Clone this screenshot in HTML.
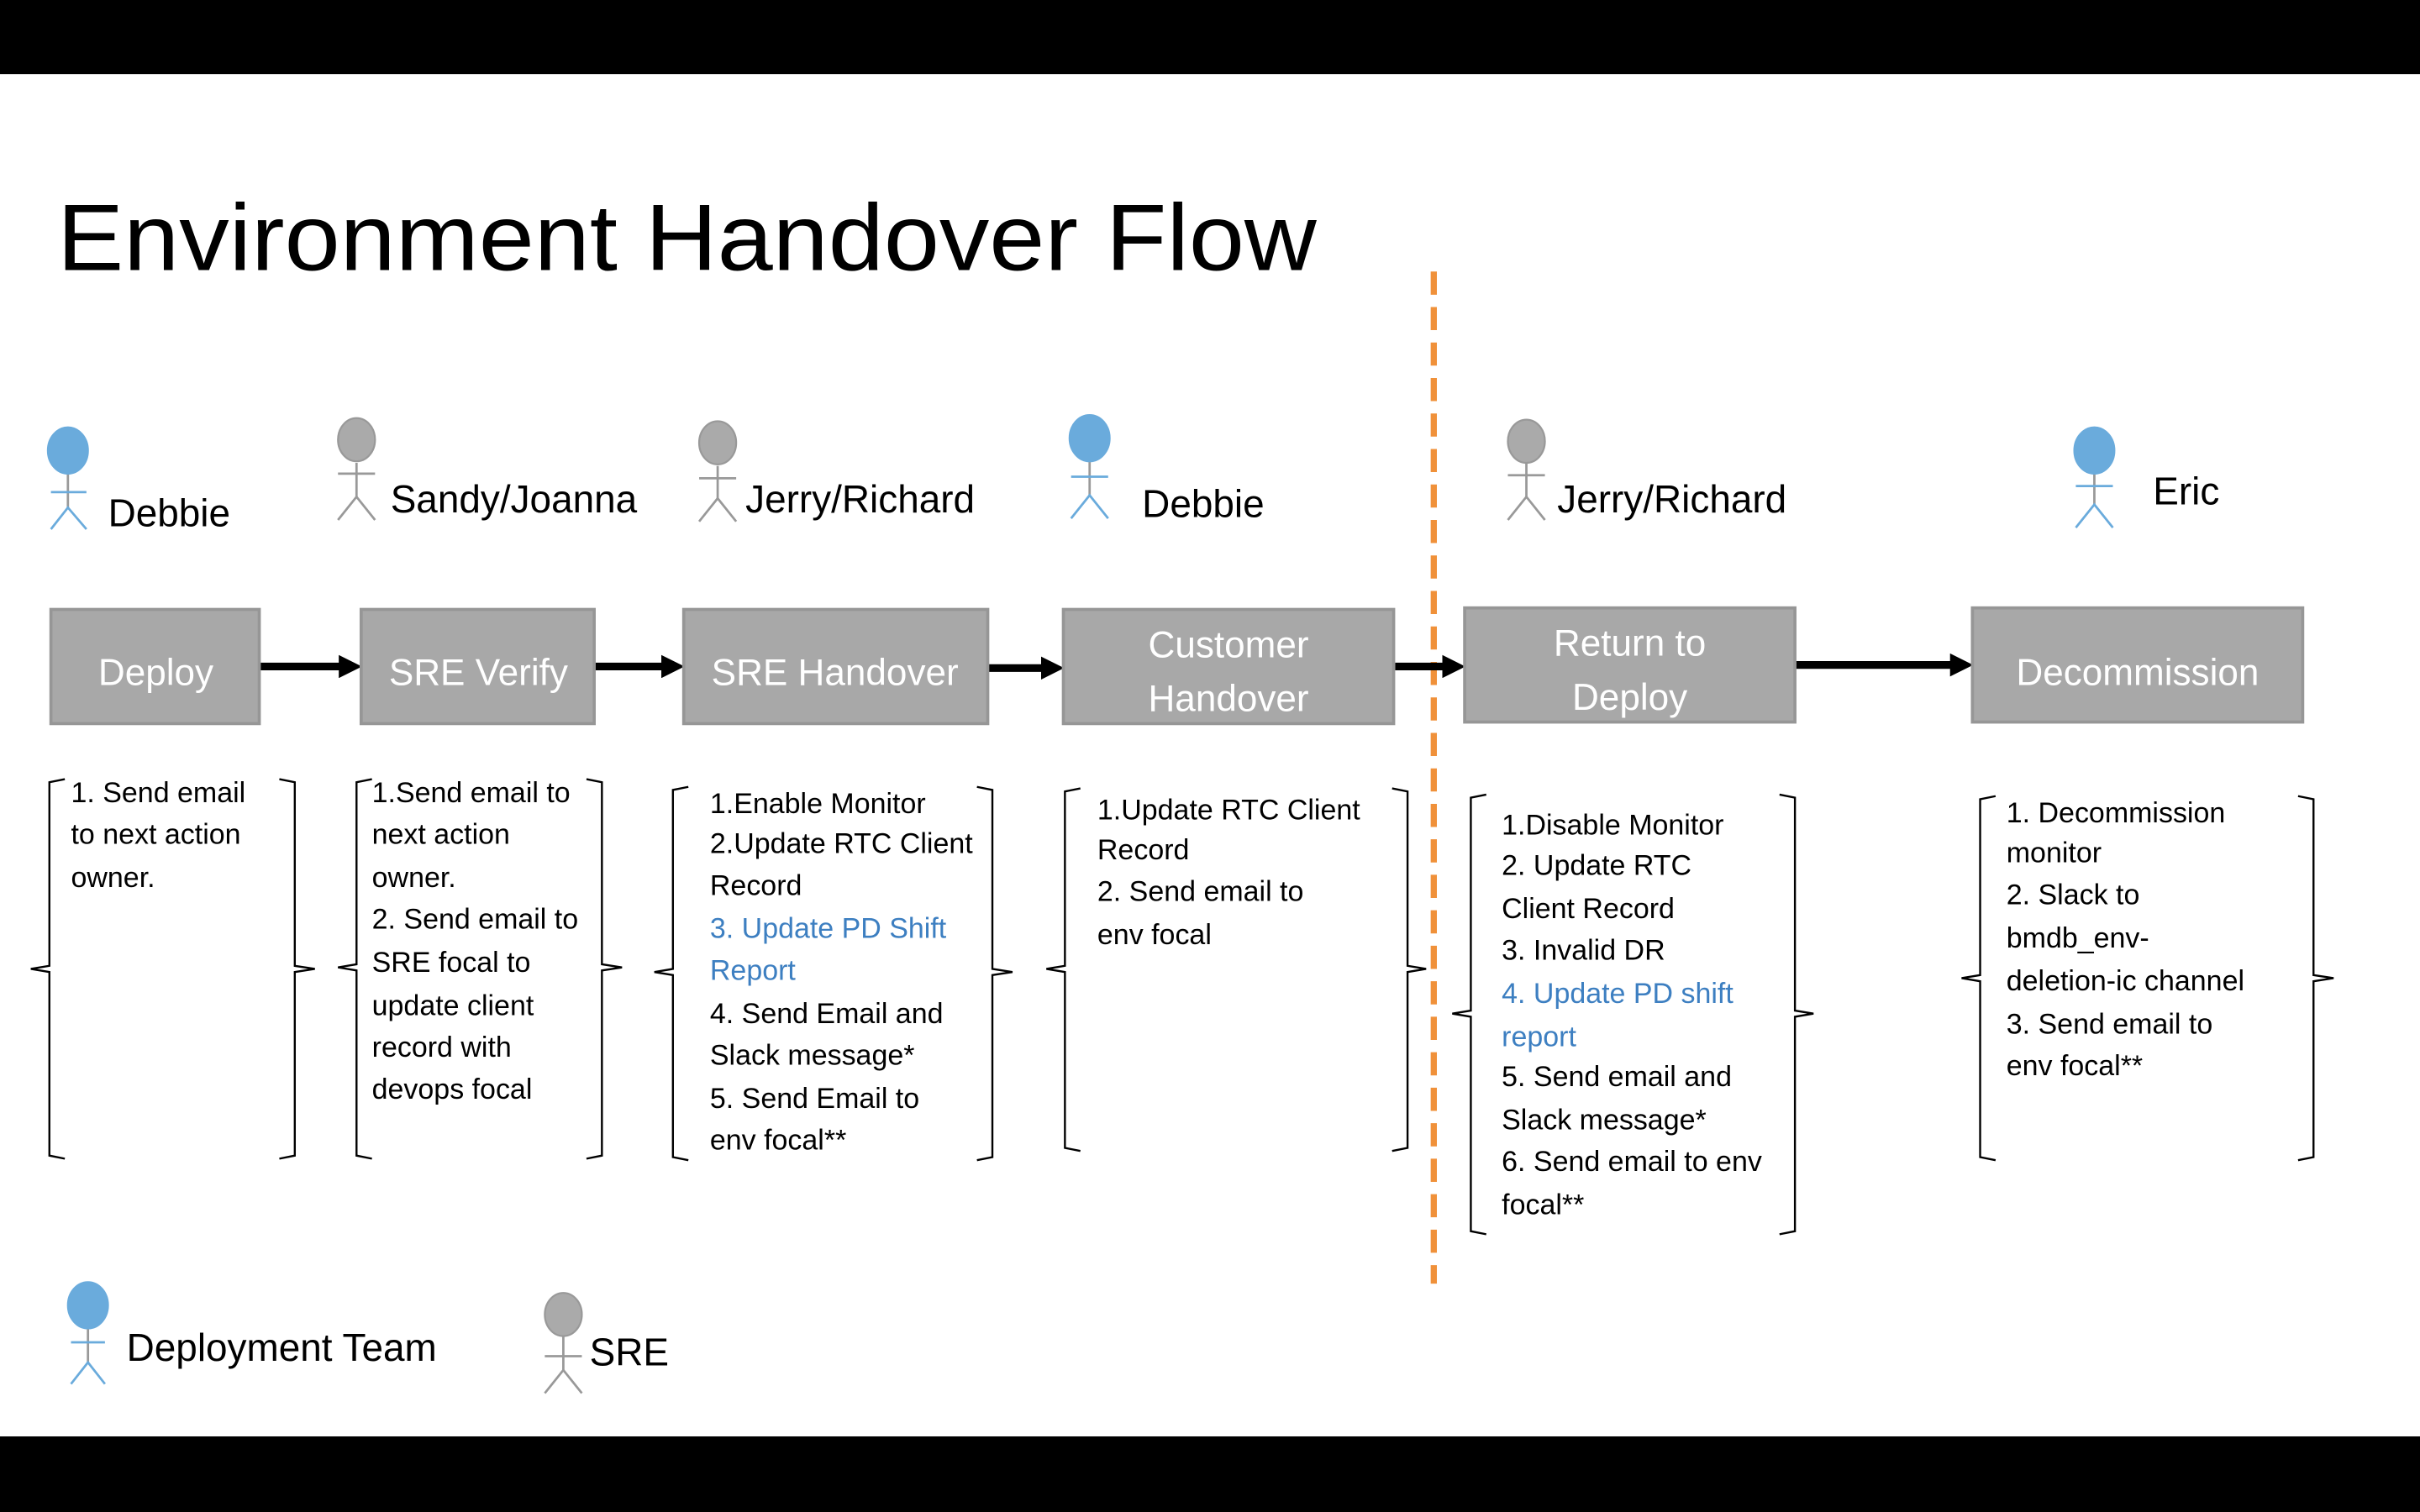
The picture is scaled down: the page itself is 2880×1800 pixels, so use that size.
<!DOCTYPE html>
<html><head><meta charset="utf-8"><style>html,body{margin:0;padding:0;background:#fff}svg{display:block}</style></head>
<body>
<svg width="2880" height="1800" viewBox="0 0 1568 980" xmlns="http://www.w3.org/2000/svg" font-family="'Liberation Sans', sans-serif">
<rect x="0" y="0" width="1568" height="980" fill="#fff"/>
<rect x="0" y="0" width="1568" height="48" fill="#000"/>
<rect x="0" y="931" width="1568" height="49" fill="#000"/>
<text x="37" y="175" font-size="61" fill="#000" textLength="816" lengthAdjust="spacingAndGlyphs">Environment Handover Flow</text>

<line x1="929" y1="176" x2="929" y2="832" stroke="#f0913a" stroke-width="4" stroke-dasharray="15,8"/>

<defs>
<marker id="ah" markerWidth="3" markerHeight="3" refX="1.5" refY="1.5" orient="auto" markerUnits="strokeWidth"><path d="M0,0 L3,1.5 L0,3 z" fill="#000"/></marker>
</defs>
<g stroke="#000" stroke-width="5" fill="none">
<line x1="168" y1="432" x2="227" y2="432" marker-end="url(#ah)"/>
<line x1="385" y1="432" x2="436" y2="432" marker-end="url(#ah)"/>
<line x1="640" y1="433" x2="682" y2="433" marker-end="url(#ah)"/>
<line x1="904" y1="432" x2="942" y2="432" marker-end="url(#ah)"/>
<line x1="1163" y1="431" x2="1271" y2="431" marker-end="url(#ah)"/>
</g>

<g fill="#a8a8a8" stroke="#969696" stroke-width="2">
<rect x="33" y="395" width="135" height="74"/>
<rect x="234" y="395" width="151" height="74"/>
<rect x="443" y="395" width="197" height="74"/>
<rect x="689" y="395" width="214" height="74"/>
<rect x="949" y="394" width="214" height="74"/>
<rect x="1278" y="394" width="214" height="74"/>
</g>
<g fill="#fff" font-size="24" text-anchor="middle">
<text x="101" y="444">Deploy</text>
<text x="310" y="444">SRE Verify</text>
<text x="541" y="444">SRE Handover</text>
<text x="796" y="426">Customer</text>
<text x="796" y="461">Handover</text>
<text x="1056" y="425">Return to</text>
<text x="1056" y="460">Deploy</text>
<text x="1385" y="444">Decommission</text>
</g>

<g stroke-width="1.5" fill="none">
<g stroke="#6aabdc"><line x1="44" y1="307" x2="44" y2="330" stroke="#999"/><line x1="33" y1="319" x2="56" y2="319"/><path d="M33,343 L44,329 L56,343"/></g>
<g stroke="#999"><line x1="231" y1="300" x2="231" y2="322"/><line x1="219" y1="307" x2="243" y2="307"/><path d="M219,337 L231,322 L243,337"/></g>
<g stroke="#999"><line x1="465" y1="302" x2="465" y2="323"/><line x1="453" y1="310" x2="477" y2="310"/><path d="M453,338 L465,323 L477,338"/></g>
<g stroke="#6aabdc"><line x1="706" y1="298" x2="706" y2="321" stroke="#999"/><line x1="694" y1="309" x2="718" y2="309"/><path d="M694,336 L706,321 L718,336"/></g>
<g stroke="#999"><line x1="989" y1="300" x2="989" y2="322"/><line x1="977" y1="308" x2="1001" y2="308"/><path d="M977,337 L989,322 L1001,337"/></g>
<g stroke="#6aabdc"><line x1="1357" y1="305" x2="1357" y2="327" stroke="#999"/><line x1="1345" y1="315" x2="1369" y2="315"/><path d="M1345,342 L1357,327 L1369,342"/></g>
<g stroke="#6aabdc"><line x1="57" y1="860" x2="57" y2="883" stroke="#999"/><line x1="46" y1="870" x2="68" y2="870"/><path d="M46,897 L57,883 L68,897"/></g>
<g stroke="#999"><line x1="365" y1="866" x2="365" y2="888"/><line x1="353" y1="879" x2="377" y2="879"/><path d="M353,903 L365,888 L377,903"/></g>
</g>
<g stroke-width="1.2">
<ellipse cx="44" cy="292" rx="13" ry="15" fill="#6aabdc" stroke="#6aabdc"/>
<ellipse cx="231" cy="285" rx="12" ry="14" fill="#aaa" stroke="#999"/>
<ellipse cx="465" cy="287" rx="12" ry="14" fill="#aaa" stroke="#999"/>
<ellipse cx="706" cy="284" rx="13" ry="15" fill="#6aabdc" stroke="#6aabdc"/>
<ellipse cx="989" cy="286" rx="12" ry="14" fill="#aaa" stroke="#999"/>
<ellipse cx="1357" cy="292" rx="13" ry="15" fill="#6aabdc" stroke="#6aabdc"/>
<ellipse cx="57" cy="846" rx="13" ry="15" fill="#6aabdc" stroke="#6aabdc"/>
<ellipse cx="365" cy="852" rx="12" ry="14" fill="#aaa" stroke="#999"/>
</g>
<g font-size="25" fill="#000">
<text x="70" y="341">Debbie</text>
<text x="253" y="332">Sandy/Joanna</text>
<text x="483" y="332">Jerry/Richard</text>
<text x="740" y="335">Debbie</text>
<text x="1009" y="332">Jerry/Richard</text>
<text x="1395" y="327">Eric</text>
<text x="82" y="882">Deployment Team</text>
<text x="382" y="885">SRE</text>
</g>

<g stroke="#000" stroke-width="1.3" fill="none">
<path d="M42,505 L32,507 L32,626 L20,628 L32,630 L32,749 L42,751"/>
<path d="M181,505 L191,507 L191,626 L204,628 L191,630 L191,749 L181,751"/>
<path d="M241,505 L231,507 L231,625 L219,627 L231,629 L231,749 L241,751"/>
<path d="M380,505 L390,507 L390,625 L403,627 L390,629 L390,749 L380,751"/>
<path d="M446,510 L436,512 L436,628 L424,630 L436,632 L436,750 L446,752"/>
<path d="M633,510 L643,512 L643,628 L656,630 L643,632 L643,750 L633,752"/>
<path d="M700,511 L690,513 L690,626 L678,628 L690,630 L690,744 L700,746"/>
<path d="M902,511 L912,513 L912,626 L924,628 L912,630 L912,744 L902,746"/>
<path d="M963,515 L953,517 L953,655 L941,657 L953,659 L953,798 L963,800"/>
<path d="M1153,515 L1163,517 L1163,655 L1175,657 L1163,659 L1163,798 L1153,800"/>
<path d="M1293,516 L1283,518 L1283,632 L1271,634 L1283,636 L1283,750 L1293,752"/>
<path d="M1489,516 L1499,518 L1499,632 L1512,634 L1499,636 L1499,750 L1489,752"/>
</g>

<g font-size="18.5" fill="#000">
<text x="46" y="520">1. Send email</text>
<text x="46" y="547">to next action</text>
<text x="46" y="575">owner.</text>

<text x="241" y="520">1.Send email to</text>
<text x="241" y="547">next action</text>
<text x="241" y="575">owner.</text>
<text x="241" y="602">2. Send email to</text>
<text x="241" y="630">SRE focal to</text>
<text x="241" y="658">update client</text>
<text x="241" y="685">record with</text>
<text x="241" y="712">devops focal</text>

<text x="460" y="527">1.Enable Monitor</text>
<text x="460" y="553">2.Update RTC Client</text>
<text x="460" y="580">Record</text>
<text x="460" y="608" fill="#3d7fc1">3. Update PD Shift</text>
<text x="460" y="635" fill="#3d7fc1">Report</text>
<text x="460" y="663">4. Send Email and</text>
<text x="460" y="690">Slack message*</text>
<text x="460" y="718">5. Send Email to</text>
<text x="460" y="745">env focal**</text>

<text x="711" y="531">1.Update RTC Client</text>
<text x="711" y="557">Record</text>
<text x="711" y="584">2. Send email to</text>
<text x="711" y="612">env focal</text>

<text x="973" y="541">1.Disable Monitor</text>
<text x="973" y="567">2. Update RTC</text>
<text x="973" y="595">Client Record</text>
<text x="973" y="622">3. Invalid DR</text>
<text x="973" y="650" fill="#3d7fc1">4. Update PD shift</text>
<text x="973" y="678" fill="#3d7fc1">report</text>
<text x="973" y="704">5. Send email and</text>
<text x="973" y="732">Slack message*</text>
<text x="973" y="759">6. Send email to env</text>
<text x="973" y="787">focal**</text>

<text x="1300" y="533">1. Decommission</text>
<text x="1300" y="559">monitor</text>
<text x="1300" y="586">2. Slack to</text>
<text x="1300" y="614">bmdb_env-</text>
<text x="1300" y="642">deletion-ic channel</text>
<text x="1300" y="670">3. Send email to</text>
<text x="1300" y="697">env focal**</text>
</g>
</svg>
</body></html>
